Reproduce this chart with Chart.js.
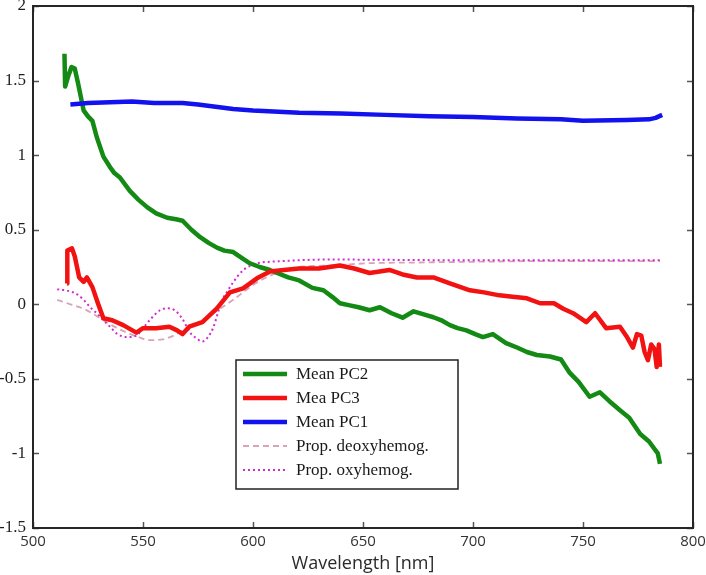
<!DOCTYPE html>
<html>
<head>
<meta charset="utf-8">
<style>
  html, body { margin:0; padding:0; background:#fff; }
  #wrap { width:706px; height:575px; }
</style>
</head>
<body>
<div id="wrap"><canvas id="myChart" width="706" height="575"></canvas></div>
<script src="https://cdn.jsdelivr.net/npm/chart.js@4.4.1/dist/chart.umd.min.js"></script>
<script>
// wavelength [nm] / value pairs
var pc2Wl  = [514.3,514.6,516,517.5,519,520.5,523,525,527,529,532,535,537,539.5,544,548,552,556,561,565,568,572,576,580,583.6,587,591,595,598.6,603,607.7,611,616,621,627,632,636,639.5,644,648,653,657.7,663,668,673,678,682,686,689.5,693,697,701,704.5,709,715,720,724.5,729,735,740,744,748,753,757.7,762,766.8,771,776,780,782,784,785];
var pc2Val = [1.68,1.46,1.53,1.59,1.58,1.48,1.30,1.26,1.23,1.12,0.99,0.92,0.88,0.85,0.76,0.70,0.65,0.61,0.58,0.57,0.56,0.50,0.45,0.41,0.38,0.36,0.35,0.31,0.275,0.25,0.23,0.21,0.18,0.16,0.11,0.094,0.05,0.007,-0.007,-0.02,-0.04,-0.02,-0.06,-0.09,-0.047,-0.07,-0.087,-0.11,-0.14,-0.16,-0.175,-0.2,-0.22,-0.20,-0.26,-0.29,-0.32,-0.34,-0.35,-0.37,-0.46,-0.52,-0.62,-0.59,-0.65,-0.71,-0.76,-0.87,-0.92,-0.96,-1.0,-1.07];

var pc3Wl  = [515.5,515.6,517.7,519,521,523,524.5,527,529.5,532,536,541,547,550,556,562,565.5,568,571,577,583.6,589.5,595.5,601.8,607.7,614,621,630,639.5,646,653,662,668,674.5,682,689.5,698.6,705,712,718,724.5,730.5,736.8,741,745.5,751.5,755.5,760.5,766.8,770,772.7,774.5,776.5,778,779.5,781,782.5,783.5,784.5,785];
var pc3Val = [0.14,0.36,0.375,0.32,0.18,0.15,0.18,0.115,0.007,-0.094,-0.107,-0.14,-0.19,-0.16,-0.16,-0.15,-0.175,-0.2,-0.15,-0.12,-0.027,0.08,0.107,0.174,0.22,0.23,0.24,0.24,0.26,0.24,0.21,0.23,0.2,0.18,0.18,0.14,0.094,0.08,0.06,0.05,0.04,0.007,0.007,-0.03,-0.06,-0.12,-0.06,-0.16,-0.15,-0.22,-0.29,-0.2,-0.21,-0.32,-0.375,-0.27,-0.3,-0.42,-0.27,-0.42];

var pc1Wl  = [517,525,535,545,555,568,575,591,600,621,640,660,680,700,720,740,750,770,780,783,786];
var pc1Val = [1.34,1.35,1.355,1.36,1.35,1.35,1.34,1.31,1.30,1.285,1.28,1.27,1.26,1.255,1.245,1.24,1.23,1.235,1.24,1.25,1.27];

var deoxyWl  = [511,517,523,528,532,537,542.7,548,553,559,564,568,573,577,581,586,591,595.5,600,606,613,620,636,652,674.5,700,740,785];
var deoxyVal = [0.03,0.0,-0.03,-0.07,-0.107,-0.15,-0.19,-0.22,-0.24,-0.235,-0.21,-0.175,-0.14,-0.107,-0.07,-0.02,0.03,0.08,0.13,0.18,0.22,0.25,0.26,0.275,0.28,0.285,0.29,0.29];

var oxyWl  = [511,516,520,523,526,529,532,535,538,542.7,547,550,553,557.7,561,563,565.5,568,570,572,574.5,577,579.5,582,584,586,588.5,591,595.5,602,608,613.6,633.6,700,785];
var oxyVal = [0.10,0.09,0.067,0.03,-0.02,-0.06,-0.107,-0.15,-0.195,-0.22,-0.21,-0.16,-0.107,-0.04,-0.027,-0.03,-0.054,-0.1,-0.154,-0.2,-0.23,-0.25,-0.22,-0.154,-0.06,0.027,0.09,0.148,0.228,0.275,0.285,0.29,0.30,0.295,0.295];

var xTicks = [500, 550, 600, 650, 700, 750, 800];
var yTicks = [-1.5, -1, -0.5, 0, 0.5, 1, 1.5, 2];

function pts(xs, ys){
    return xs.map(function(x, i){ return {x: x, y: ys[i]}; });
}

// box + inward tick marks, matlab style
var frame = {
    id: 'frame',
    afterDatasetsDraw: function(chart){
        var c = chart.ctx, a = chart.chartArea;
        var xs = chart.scales.x, ys = chart.scales.y;
        c.save();
        c.strokeStyle = '#555';
        c.lineWidth = 1.5;
        xTicks.forEach(function(v){
            var px = Math.round(xs.getPixelForValue(v)) + 0.5;
            c.beginPath();
            c.moveTo(px, a.bottom); c.lineTo(px, a.bottom - 6);
            c.moveTo(px, a.top); c.lineTo(px, a.top + 6);
            c.stroke();
        });
        yTicks.forEach(function(v){
            var py = Math.round(ys.getPixelForValue(v)) + 0.5;
            c.beginPath();
            c.moveTo(a.left, py); c.lineTo(a.left + 6, py);
            c.moveTo(a.right, py); c.lineTo(a.right - 6, py);
            c.stroke();
        });
        c.strokeStyle = '#262626';
        c.lineWidth = 2;
        c.strokeRect(a.left, a.top, a.right - a.left, a.bottom - a.top);
        c.restore();
    }
};

// legend drawn inside the plot
var boxLegend = {
    id: 'boxLegend',
    afterDraw: function(chart){
        var c = chart.ctx, a = chart.chartArea;
        var bx = a.left + 203, by = a.top + 354, bw = 222, bh = 129;
        c.save();
        c.fillStyle = '#fff';
        c.fillRect(bx, by, bw, bh);
        c.strokeStyle = '#222';
        c.lineWidth = 1.5;
        c.strokeRect(bx, by, bw, bh);
        c.font = '17px "Liberation Serif", serif';
        c.textBaseline = 'middle';
        chart.data.datasets.forEach(function(ds, i){
            var yy = by + 14 + i * 24;
            c.strokeStyle = ds.borderColor;
            c.lineWidth = ds.borderWidth;
            c.setLineDash(ds.borderDash || []);
            c.beginPath();
            c.moveTo(bx + 7, yy); c.lineTo(bx + 51, yy);
            c.stroke();
            c.setLineDash([]);
            c.fillStyle = '#1a1a1a';
            c.fillText(ds.label, bx + 60, yy + 1);
        });
        c.restore();
    }
};

new Chart(document.getElementById('myChart'), {
    type: 'line',
    data: {
        datasets: [
            { label: 'Mean PC2', data: pts(pc2Wl, pc2Val), borderColor: '#138a13', borderWidth: 4.5, order: 3 },
            { label: 'Mea PC3', data: pts(pc3Wl, pc3Val), borderColor: '#f21212', borderWidth: 4.5, order: 2 },
            { label: 'Mean PC1', data: pts(pc1Wl, pc1Val), borderColor: '#1212ee', borderWidth: 4.5, order: 1 },
            { label: 'Prop. deoxyhemog.', data: pts(deoxyWl, deoxyVal), borderColor: '#d9a3b6', borderWidth: 1.8, borderDash: [6, 4], cubicInterpolationMode: 'monotone', order: 5 },
            { label: 'Prop. oxyhemog.', data: pts(oxyWl, oxyVal), borderColor: '#d22ad2', borderWidth: 2, borderDash: [2, 3], cubicInterpolationMode: 'monotone', order: 4 }
        ]
    },
    options: {
        responsive: false,
        animation: false,
        layout: { padding: { top: 6, right: 13, left: 0, bottom: 0 } },
        elements: {
            point: { radius: 0 },
            line: { tension: 0, borderJoinStyle: 'round', borderCapStyle: 'butt', fill: false }
        },
        plugins: { legend: { display: false }, tooltip: { enabled: false } },
        scales: {
            x: {
                type: 'linear', min: 500, max: 800,
                grid: { display: false, drawTicks: false },
                border: { display: false },
                ticks: {
                    stepSize: 50, padding: 5, maxRotation: 0, autoSkip: false,
                    color: '#333', font: { family: '"Open Sans", sans-serif', size: 15 },
                    callback: function(v){ return String(v); }
                },
                title: {
                    display: true, text: 'Wavelength [nm]', color: '#2a2a2a',
                    font: { family: '"Open Sans", sans-serif', size: 18 },
                    padding: { top: 0, bottom: 0 }
                },
                afterFit: function(s){ s.height = 47; s.paddingLeft = 0; s.paddingRight = 0; }
            },
            y: {
                type: 'linear', min: -1.5, max: 2,
                grid: { display: false, drawTicks: false },
                border: { display: false },
                ticks: {
                    stepSize: 0.5, padding: 7, autoSkip: false,
                    color: '#1e1e1e', font: { family: '"Liberation Serif", serif', size: 17 },
                    callback: function(v){ return String(v); }
                },
                afterFit: function(s){ s.width = 33; s.paddingTop = 0; s.paddingBottom = 0; }
            }
        }
    },
    plugins: [frame, boxLegend]
});
</script>
</body>
</html>
